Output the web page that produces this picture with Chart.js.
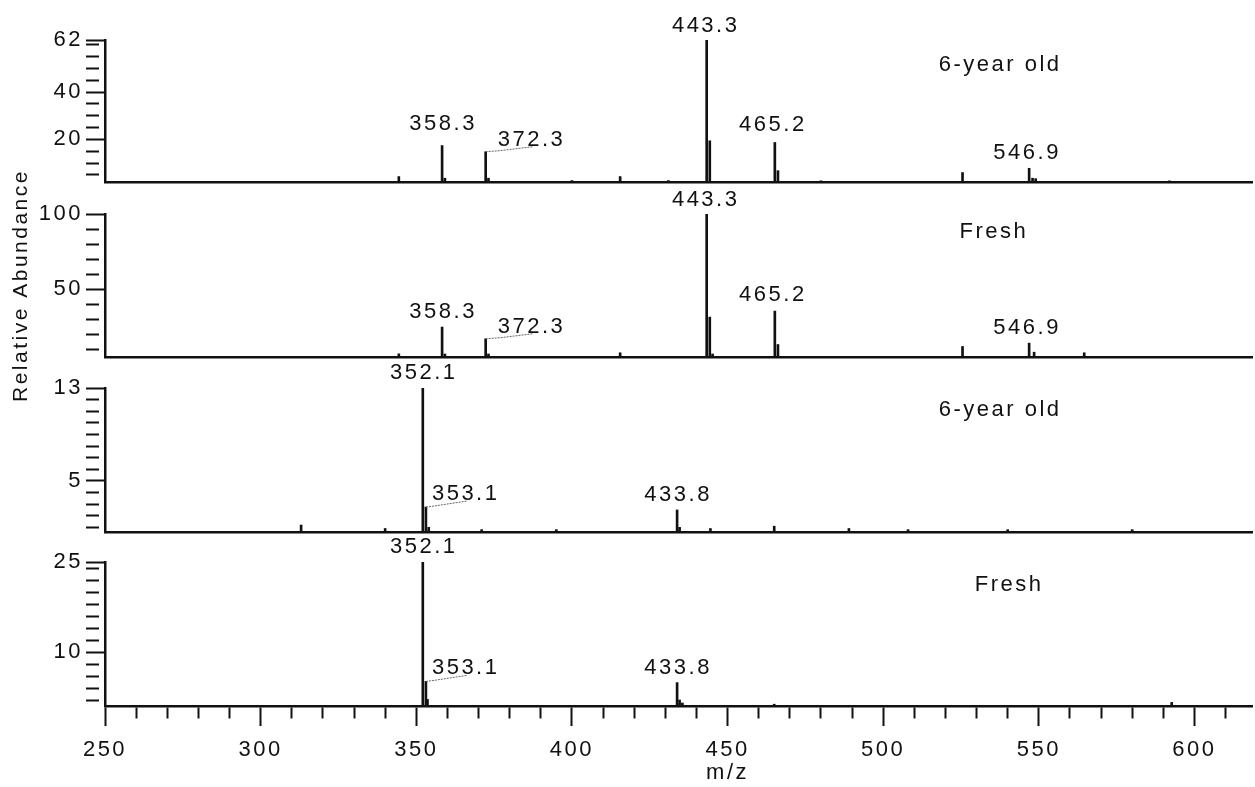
<!DOCTYPE html>
<html>
<head>
<meta charset="utf-8">
<script src="https://cdn.jsdelivr.net/npm/chart.js@4.4.1/dist/chart.umd.min.js"></script>
<style>
  html, body { margin: 0; padding: 0; background: #fff; }
  #fig { position: relative; width: 1255px; height: 787px; overflow: hidden; }
  #fig canvas { position: absolute; left: 0; }
</style>
</head>
<body>
<div id="fig"></div>
<script>
// m/z and relative abundance (top to bottom)
const oldHigh_mz = [344.4, 358.3, 359.2, 372.3, 373.2, 400.0, 415.5, 431.0, 443.3, 444.3, 465.2, 466.2, 480.0, 525.5, 546.9, 548.0, 549.0, 592.0];
const oldHigh_ab = [4.3, 17.4, 3.6, 14.8, 3.6, 2.6, 4.3, 2.6, 62, 19.4, 18.7, 6.8, 2.5, 6.0, 7.8, 3.6, 3.4, 2.5];

const freshHigh_mz = [344.4, 358.3, 359.2, 372.3, 373.2, 415.5, 443.3, 444.3, 445.2, 465.2, 466.2, 525.5, 546.9, 548.5, 564.6];
const freshHigh_ab = [7.1, 24.9, 7.0, 17.1, 7.0, 7.8, 100, 31.5, 7.0, 35.5, 13.3, 12.0, 14.2, 8.2, 7.8];

const oldLow_mz = [313.0, 340.0, 352.1, 353.1, 354.0, 371.0, 395.0, 433.8, 434.6, 444.5, 465.0, 489.0, 508.0, 540.0, 580.0];
const oldLow_ab = [1.2, 0.9, 13, 2.75, 1.0, 0.8, 0.8, 2.5, 1.0, 0.9, 1.1, 0.9, 0.8, 0.8, 0.8];

const freshLow_mz = [352.1, 353.1, 353.6, 433.8, 434.6, 435.5, 465.0, 592.7];
const freshLow_ab = [25, 5.1, 2.1, 4.9, 2.0, 1.5, 1.3, 1.6];

// axis ticks
const xTicks = [250, 260, 270, 280, 290, 300, 310, 320, 330, 340, 350, 360, 370, 380, 390, 400,
                410, 420, 430, 440, 450, 460, 470, 480, 490, 500, 510, 520, 530, 540, 550, 560,
                570, 580, 590, 600, 610];
const xLabels = [250, 300, 350, 400, 450, 500, 550, 600];

const y1Ticks = [5, 10, 15, 20, 25, 30, 35, 40, 45, 50, 55, 60, 62];
const y1Labels = [20, 40, 62];
const y2Ticks = [10, 20, 30, 40, 50, 60, 70, 80, 90, 100];
const y2Labels = [50, 100];
const y3Ticks = [1, 2, 3, 4, 5, 6, 7, 8, 9, 10, 11, 12, 13];
const y3Labels = [5, 13];
const y4Ticks = [2, 4, 6, 8, 10, 12, 14, 16, 18, 20, 22, 24, 25];
const y4Labels = [10, 25];

// labelled peaks and panel names
const p1Peaks = [358.3, 372.3, 443.3, 465.2, 546.9];
const p2Peaks = [358.3, 372.3, 443.3, 465.2, 546.9];
const p3Peaks = [352.1, 353.1, 433.8];
const p4Peaks = [352.1, 353.1, 433.8];
const panelNames = ['6-year old', 'Fresh', '6-year old', 'Fresh'];

const FONT = "'Liberation Sans', Arial, sans-serif";
const INK = '#111';

// label placement tweaks (pixels)
const labelStyle = {
  358.3: { gap: 9 }, 372.3: { side: 'right' }, 353.1: { side: 'right' },
  443.3: { gap: 8, dx: -2 }, 465.2: { gap: 10, dx: -3 }, 546.9: { gap: 9, dx: -3 }
};

const panels = [
  { mz: oldHigh_mz, ab: oldHigh_ab, min: 2, max: 62, ticks: y1Ticks, labels: y1Labels, peaks: p1Peaks,
    name: panelNames[0], nameX: 537.6, nameDy: 25, top: 40, bottom: 182, extra: { 358.3: { gap: 16 }, 465.2: { gap: 11, dx: -3 } } },
  { mz: freshHigh_mz, ab: freshHigh_ab, min: 5, max: 100, ticks: y2Ticks, labels: y2Labels, peaks: p2Peaks,
    name: panelNames[1], nameX: 535.6, nameDy: 18, top: 214, bottom: 357, title: 'Relative Abundance' },
  { mz: oldLow_mz, ab: oldLow_ab, min: 0.6, max: 13, ticks: y3Ticks, labels: y3Labels, peaks: p3Peaks,
    name: panelNames[2], nameX: 537.6, nameDy: 22, top: 388, bottom: 532 },
  { mz: freshLow_mz, ab: freshLow_ab, min: 1, max: 25, ticks: y4Ticks, labels: y4Labels, peaks: p4Peaks,
    name: panelNames[3], nameX: 540.5, nameDy: 23, top: 562, bottom: 706, last: true }
];

function textPlugin(panel) {
  return {
    id: 'peakText',
    beforeDraw(chart) {
      chart.ctx.letterSpacing = '2.5px';
    },
    afterDatasetsDraw(chart) {
      const ctx = chart.ctx;
      const xs = chart.scales.x, ys = chart.scales.y;
      const area = chart.chartArea;
      ctx.save();
      ctx.letterSpacing = '2.5px';
      ctx.fillStyle = INK;
      ctx.font = '22px ' + FONT;
      ctx.textBaseline = 'alphabetic';
      panel.peaks.forEach(function (m) {
        const i = panel.mz.indexOf(m);
        const px = xs.getPixelForValue(m);
        const py = ys.getPixelForValue(panel.ab[i]);
        const st = Object.assign({}, labelStyle[m] || {}, (panel.extra || {})[m] || {});
        const txt = m.toFixed(1);
        if (st.side === 'right') {
          const left = px + (m > 360 && m < 380 ? 12 : 6);
          const base = py - (m > 360 && m < 380 ? 6 : 7);
          ctx.textAlign = 'left';
          ctx.fillText(txt, left, base);
          ctx.save();
          ctx.strokeStyle = '#666';
          ctx.lineWidth = 1;
          ctx.setLineDash([2, 1]);
          ctx.beginPath();
          ctx.moveTo(px, py);
          ctx.lineTo(left + 2, py - 1);
          ctx.lineTo(left + 35, base + 1);
          ctx.stroke();
          ctx.restore();
        } else {
          ctx.textAlign = 'center';
          ctx.fillText(txt, px + (st.dx || 0) + 1, py - (st.gap || 9));
        }
      });
      ctx.textAlign = 'center';
      ctx.textBaseline = 'middle';
      ctx.fillText(panel.name, xs.getPixelForValue(panel.nameX), area.top + panel.nameDy);
      if (panel.last) {
        ctx.fillText('m/z', xs.getPixelForValue(450), area.bottom + 67);
      }
      ctx.restore();
    }
  };
}

const fig = document.getElementById('fig');

panels.forEach(function (p) {
  const padTop = Math.min(p.top, 60);
  const padBottom = p.last ? 0 : 50;
  const axisH = p.last ? 787 - p.bottom : 0;
  const cTop = p.top - padTop;
  const cH = padTop + (p.bottom - p.top) + padBottom + axisH;
  const cv = document.createElement('canvas');
  cv.width = 1255; cv.height = cH;
  cv.style.top = cTop + 'px';
  cv.style.width = '1255px'; cv.style.height = cH + 'px';
  fig.appendChild(cv);

  new Chart(cv, {
    type: 'bar',
    data: {
      datasets: [{
        data: p.mz.map(function (m, i) { return { x: m, y: p.ab[i] }; }),
        backgroundColor: INK,
        borderWidth: 0,
        barThickness: 2,
        grouped: false
      }]
    },
    options: {
      responsive: false,
      animation: false,
      events: [],
      layout: { padding: { top: padTop, bottom: padBottom, left: 0, right: 3 } },
      plugins: { legend: { display: false }, tooltip: { enabled: false } },
      scales: {
        x: {
          type: 'linear',
          min: 250,
          max: 618.5,
          offset: false,
          afterBuildTicks: function (s) { s.ticks = xTicks.map(function (v) { return { value: v }; }); },
          afterFit: function (s) { s.height = axisH; },
          border: { display: true, color: INK, width: 2.5 },
          grid: {
            offset: false,
            drawOnChartArea: false,
            drawTicks: !!p.last,
            tickLength: 20,
            tickWidth: 2,
            tickColor: INK,
            tickBorderDash: function (c) { return xLabels.indexOf(c.tick.value) >= 0 ? [] : [11, 60]; }
          },
          ticks: {
            display: !!p.last,
            autoSkip: false,
            maxRotation: 0,
            padding: 11,
            color: INK,
            font: { family: FONT, size: 22 },
            callback: function (v) { return xLabels.indexOf(v) >= 0 ? String(v) : ''; }
          }
        },
        y: {
          type: 'linear',
          min: p.min,
          max: p.max,
          afterBuildTicks: function (s) { s.ticks = p.ticks.map(function (v) { return { value: v }; }); },
          afterFit: function (s) { s.width = 105; },
          border: { display: true, color: INK, width: 2.5 },
          grid: {
            drawOnChartArea: false,
            tickLength: 19,
            tickWidth: 2,
            tickColor: INK,
            tickBorderDash: function (c) { return p.labels.indexOf(c.tick.value) >= 0 ? [] : [13, 60]; }
          },
          title: {
            display: !!p.title,
            text: p.title || '',
            color: INK,
            font: { family: FONT, size: 21 },
            padding: { top: 9, bottom: 0 }
          },
          ticks: {
            autoSkip: false,
            padding: 3,
            color: INK,
            font: { family: FONT, size: 22 },
            callback: function (v) { return p.labels.indexOf(v) >= 0 ? String(v) : ''; }
          }
        }
      }
    },
    plugins: [textPlugin(p)]
  });
});
</script>
</body>
</html>
